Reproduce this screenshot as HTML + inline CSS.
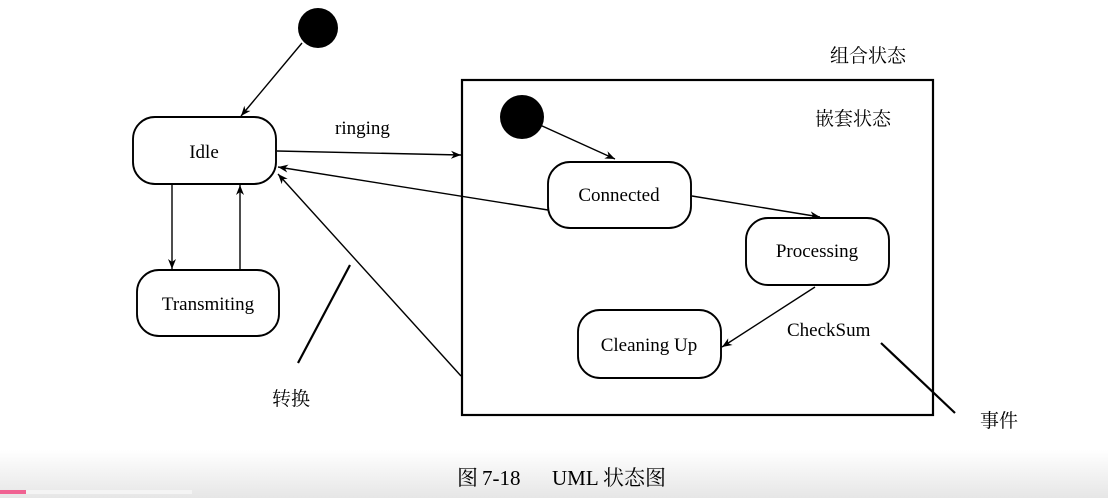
<!DOCTYPE html>
<html><head><meta charset="utf-8"><style>
body{margin:0;width:1108px;height:498px;overflow:hidden;background:#fff;font-family:"Liberation Serif","Noto Serif CJK SC",serif;}
</style></head><body>
<svg width="1108" height="498" xmlns="http://www.w3.org/2000/svg" style="position:absolute;left:0;top:0">
<defs>
<linearGradient id="g" x1="0" y1="0" x2="0" y2="1"><stop offset="0" stop-color="#fff"/><stop offset="1" stop-color="#e6e6e6"/></linearGradient>
<marker id="a" viewBox="0 0 10 10" refX="10" refY="5" markerWidth="10" markerHeight="10" markerUnits="userSpaceOnUse" orient="auto"><path d="M0,1 L10,5 L0,9 L3,5 Z" fill="#000"/></marker>
</defs>
<rect x="0" y="450" width="1108" height="48" fill="url(#g)"/>
<rect x="0" y="490" width="192" height="4" fill="#f4f4f4"/>
<rect x="0" y="490" width="26" height="4" fill="#f06292"/>
<g fill="none" stroke="#000" stroke-width="1.9">
<rect x="462" y="80" width="471" height="335" stroke-width="2.2"/>
<rect x="133" y="117" width="143" height="67" rx="22"/>
<rect x="137" y="270" width="142" height="66" rx="22"/>
<rect x="548" y="162" width="143" height="66" rx="22"/>
<rect x="746" y="218" width="143" height="67" rx="22"/>
<rect x="578" y="310" width="143" height="68" rx="22"/>
</g>
<circle cx="318" cy="28" r="20"/>
<circle cx="522" cy="117" r="22"/>
<g stroke="#000" stroke-width="1.4" fill="none">
<line x1="302" y1="43" x2="241" y2="116" marker-end="url(#a)"/>
<line x1="277" y1="151" x2="461" y2="155" marker-end="url(#a)"/>
<line x1="548" y1="210" x2="278" y2="167" marker-end="url(#a)"/>
<line x1="461" y1="376" x2="278" y2="174" marker-end="url(#a)"/>
<line x1="172" y1="185" x2="172" y2="269" marker-end="url(#a)"/>
<line x1="240" y1="269" x2="240" y2="185" marker-end="url(#a)"/>
<line x1="540" y1="125" x2="615" y2="159" marker-end="url(#a)"/>
<line x1="692" y1="196" x2="820" y2="217" marker-end="url(#a)"/>
<line x1="815" y1="287" x2="722" y2="347" marker-end="url(#a)"/>
<line x1="350" y1="265" x2="298" y2="363" stroke-width="2.2"/>
<line x1="881" y1="343" x2="955" y2="413" stroke-width="2.2"/>
</g>
<g font-size="19" text-anchor="middle" fill="#000">
<text x="204" y="158">Idle</text>
<text x="208" y="310">Transmiting</text>
<text x="619" y="201">Connected</text>
<text x="817" y="257">Processing</text>
<text x="649" y="351">Cleaning Up</text>
</g>
<g font-size="19" fill="#000">
<text x="335" y="134">ringing</text>
<text x="787" y="336">CheckSum</text>
<text x="830" y="62">组合状态</text>
<text x="815" y="125">嵌套状态</text>
<text x="272" y="405">转换</text>
<text x="980" y="427">事件</text>
<text x="457" y="485" font-size="21">图</text>
<text x="482" y="485" font-size="21">7-18</text>
<text x="552" y="485" font-size="21">UML</text>
<text x="603" y="485" font-size="21">状态图</text>
</g>
</svg>
</body></html>
